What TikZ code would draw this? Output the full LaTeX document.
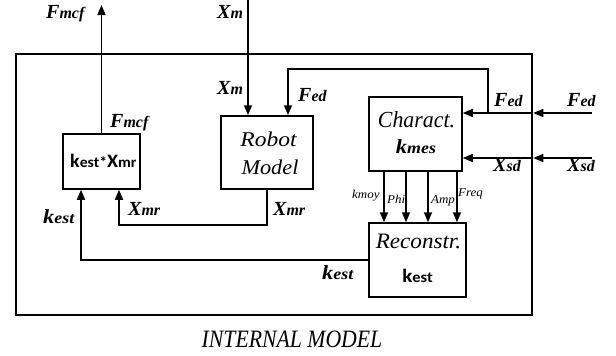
\documentclass[tikz,border=0pt]{standalone}
\usepackage{fontspec}
\setmainfont{Liberation Serif}
\newfontfamily\carl{Carlito}
\usetikzlibrary{arrows.meta}
\newcommand\lbl[2]{{\bfseries\itshape\fontsize{20}{20}\selectfont #1\fontsize{16}{16}\selectfont #2}}
\newcommand\klbl[2]{\scalebox{1.12}[1]{\lbl{#1}{#2}}}
\newcommand\slbl[2]{{\carl\bfseries\fontsize{19}{19}\selectfont #1\fontsize{15}{15}\selectfont #2}}
\newcommand\sml[1]{\scalebox{1.08}[1]{\itshape\fontsize{12}{12}\selectfont #1}}
\newcommand\ttl[3]{\scalebox{#1}[1]{\itshape\fontsize{#2}{#2}\selectfont #3}}
\begin{document}
\begin{tikzpicture}[x=1pt,y=-1pt,
  blk/.style={draw,line width=1.5pt,inner sep=0pt},
  outerbox/.style={draw,line width=2.5pt,inner sep=0pt},
  arr/.style={line width=1.5pt,-{Triangle[length=10pt,width=8pt]}},
  txt/.style={inner sep=0pt,anchor=base west},
  ctxt/.style={inner sep=0pt,anchor=base}]
\useasboundingbox (0,0) rectangle (616,356);
% outer box
\node[outerbox,minimum width=516pt,minimum height=261pt] (outer) at (274,184.5) {};
% blocks
\node[blk,minimum width=77pt,minimum height=55pt] (kb) at (101.5,161.5) {};
\node[blk,minimum width=92pt,minimum height=73pt] (rm) at (267,152.5) {};
\node[blk,minimum width=93pt,minimum height=74pt] (ch) at (415.5,134) {};
\node[blk,minimum width=97pt,minimum height=74pt] (rc) at (417.5,260) {};
% block texts
\node[txt] (kbt) at (70,167) {\scalebox{1.05}[1]{\slbl{k}{est}{\carl\bfseries\fontsize{15}{15}\selectfont*}\slbl{X}{mr}}};
\node[ctxt] (rmt1) at (268.5,146) {\ttl{1.12}{21}{Robot}};
\node[ctxt] (rmt2) at (270,174) {\ttl{1.06}{21}{Model}};
\node[ctxt] (cht1) at (416.5,127) {\ttl{0.95}{23}{Charact.}};
\node[ctxt] (cht2) at (416,153) {\klbl{k}{mes}};
\node[ctxt] (rct1) at (418.5,248) {\ttl{1.05}{22}{Reconstr.}};
\node[ctxt] (rct2) at (417.5,282) {\scalebox{1.1}[1]{\slbl{k}{est}}};
% coordinates
\coordinate (fmcfT) at (101.5,5);
\coordinate (xmT) at (248,0);
\coordinate (fedR) at (592,113);
\coordinate (fedJ) at (488,113);
\coordinate (fedK) at (288,69);
\coordinate (xsdR) at (592,158);
\coordinate (xmrL) at (119,225);
\coordinate (kL) at (81,259);
% connectors
\draw[arr] (kb.north) -- (fmcfT);
\draw[arr] (xmT) -- (xmT |- rm.north);
\draw[arr] (fedR) -- (fedR -| outer.east);
\draw[arr] (fedR -| outer.east) -- (fedR -| ch.east);
\draw[arr] (fedJ) |- (fedK) -- (fedK |- rm.north);
\draw[arr] (xsdR) -- (xsdR -| outer.east);
\draw[arr] (xsdR -| outer.east) -- (xsdR -| ch.east);
\foreach \xx in {384,406,428,457}{
  \coordinate (c\xx) at (\xx,0);
  \draw[arr] (ch.south -| c\xx) -- (rc.north -| c\xx);
}
\draw[arr] (rm.south) -- (rm.south |- xmrL) -| (kb.south -| xmrL);
\draw[arr] (rc.west) -| (kb.south -| kL);
% labels
\node[txt] (l1) at (46,19) {\lbl{F}{mcf}};
\node[txt] (l2) at (110,127) {\lbl{F}{mcf}};
\node[txt] (l3) at (217,19) {\lbl{X}{m}};
\node[txt] (l4) at (217,94) {\lbl{X}{m}};
\node[txt] (l5) at (298,101) {\lbl{F}{ed}};
\node[txt] (l6) at (494,106) {\lbl{F}{ed}};
\node[txt] (l7) at (567,106) {\lbl{F}{ed}};
\node[txt] (l8) at (493,171) {\lbl{X}{sd}};
\node[txt] (l9) at (567,171) {\lbl{X}{sd}};
\node[txt] (l10) at (43,223) {\klbl{k}{est}};
\node[txt] (l11) at (128,215) {\lbl{X}{mr}};
\node[txt] (l12) at (273,215) {\lbl{X}{mr}};
\node[txt] (l13) at (322,279) {\klbl{k}{est}};
\node[txt] (l14) at (352,198) {\sml{kmoy}};
\node[txt] (l15) at (387,203) {\sml{Phi}};
\node[txt] (l16) at (431,203) {\sml{Amp}};
\node[txt] (l17) at (458,196) {\sml{Freq}};
\node[ctxt] (l18) at (292,347) {\ttl{0.87}{25}{INTERNAL MODEL}};
\end{tikzpicture}
\end{document}
